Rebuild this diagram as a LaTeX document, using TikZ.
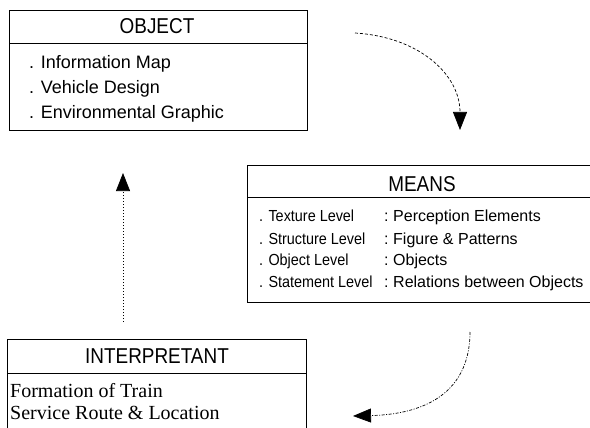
\documentclass[tikz,border=0pt]{standalone}
\usepackage{fontspec}
\setmainfont{Liberation Serif}
\newfontfamily\rowsans{Liberation Sans}
\newfontfamily\rowsansc[FakeStretch=0.9]{Liberation Sans}
\newfontfamily\titlesans[FakeStretch=0.88]{Liberation Sans}
\usetikzlibrary{arrows.meta}
\begin{document}
\begin{tikzpicture}[x=1pt,y=-1pt,
  box/.style={draw, line width=0.8pt, inner sep=0, anchor=north west},
  rule/.style={line width=0.8pt},
  ttl/.style={font=\titlesans\fontsize{21.5}{24}\selectfont, inner sep=0, anchor=base},
  orow/.style={font=\rowsans\fontsize{18}{22}\selectfont, inner sep=0, anchor=base west},
  mrow/.style={font=\rowsans\fontsize{16}{20}\selectfont, inner sep=0, anchor=base west},
  mlab/.style={font=\rowsansc\fontsize{16}{20}\selectfont, inner sep=0, anchor=base west},
  irow/.style={font=\fontsize{20}{24}\selectfont, inner sep=0, anchor=base west},
  tip/.style={-{Triangle[length=18pt,width=14pt]}},
  dashline/.style={line width=0.7pt, dash pattern=on 3pt off 2pt},
  dotline/.style={line width=0.7pt, dash pattern=on 1pt off 2pt},
  dashdotline/.style={line width=0.7pt, dash pattern=on 3pt off 1.5pt on 1pt off 1.5pt},
]
\useasboundingbox (0,0) rectangle (590,428);
\clip (0,0) rectangle (590,428);

% OBJECT
\node[box, minimum width=298pt, minimum height=120pt] (object) at (9,10) {};
\draw[rule] ([yshift=-33pt]object.north west) -- ([yshift=-33pt]object.north east);
\node[ttl] (objtitle) at (157,34) {OBJECT};
\node[orow] (o1) at (29,68.5) {. Information Map};
\node[orow] (o2) at (29,93.5) {. Vehicle Design};
\node[orow] (o3) at (29,118.5) {. Environmental Graphic};

% MEANS
\node[box, minimum width=360pt, minimum height=137pt] (means) at (247,165) {};
\draw[rule] ([yshift=-32pt]means.north west) -- ([yshift=-32pt]means.north east);
\node[ttl] (meanstitle) at (422,191) {MEANS};
\node[mlab] (m1) at (259,222) {. Texture Level};
\node[mrow] (m1c) at (384,222) {:};
\node[mrow] (m1v) at (393,222) {Perception Elements};
\node[mlab] (m2) at (259,244) {. Structure Level};
\node[mrow] (m2c) at (384,244) {:};
\node[mrow] (m2v) at (393,244) {Figure \& Patterns};
\node[mlab] (m3) at (259,265.5) {. Object Level};
\node[mrow] (m3c) at (384,265.5) {:};
\node[mrow] (m3v) at (393,265.5) {Objects};
\node[mlab] (m4) at (259,287) {. Statement Level};
\node[mrow] (m4c) at (384,287) {:};
\node[mrow] (m4v) at (393,287) {Relations between Objects};

% INTERPRETANT
\node[box, minimum width=299pt, minimum height=110pt] (interp) at (7,339) {};
\draw[rule] ([yshift=-34pt]interp.north west) -- ([yshift=-34pt]interp.north east);
\node[ttl] (interptitle) at (157,363) {INTERPRETANT};
\node[irow] (i1) at (10,397) {Formation of Train};
\node[irow] (i2) at (10,419) {Service Route \& Location};

% connectors
\coordinate (a1s) at (355,33);
\coordinate (a1e) at (460,130);
\draw[dashline, tip] (a1s) .. controls (420,37) and (460,75) .. (a1e);

\coordinate (a2s) at (123,322);
\coordinate (a2e) at (123,173);
\draw[dotline, tip] (a2s) -- (a2e);

\coordinate (a3s) at (470,332);
\coordinate (a3e) at (353,416);
\draw[dashdotline, tip] (a3s) .. controls (470,385) and (435,414) .. (a3e);
\end{tikzpicture}
\end{document}
